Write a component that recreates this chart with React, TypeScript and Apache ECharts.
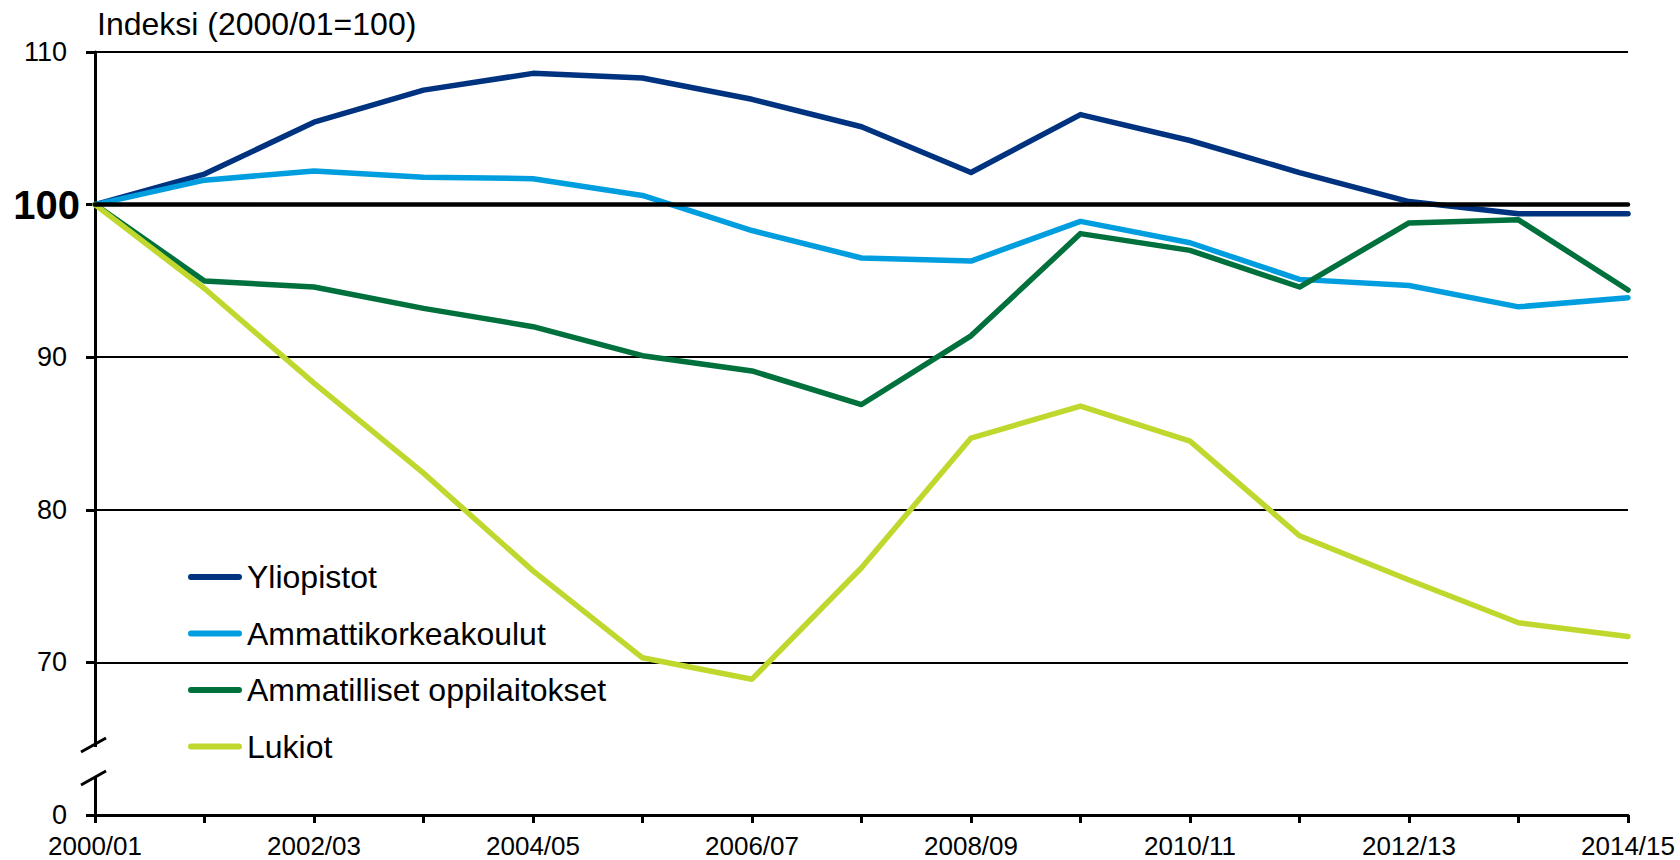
import React, { useEffect, useRef } from "react";
import * as echarts from "echarts";

const categories = [
  "2000/01", "2001/02", "2002/03", "2003/04", "2004/05", "2005/06", "2006/07", "2007/08",
  "2008/09", "2009/10", "2010/11", "2011/12", "2012/13", "2013/14", "2014/15",
];
const yliopistot = [100, 102.0, 105.4, 107.5, 108.6, 108.3, 106.9, 105.1, 102.1, 105.9, 104.2, 102.1, 100.2, 99.4, 99.4];
const ammattikorkeakoulut = [100, 101.6, 102.2, 101.8, 101.7, 100.6, 98.3, 96.5, 96.3, 98.9, 97.5, 95.1, 94.7, 93.3, 93.9];
const ammatilliset = [100, 95.0, 94.6, 93.2, 92.0, 90.1, 89.1, 86.9, 91.4, 98.1, 97.0, 94.6, 98.8, 99.0, 94.4];
const lukiot = [100, 94.5, 88.3, 82.4, 76.0, 70.3, 68.9, 76.2, 84.7, 86.8, 84.5, 78.3, 75.4, 72.6, 71.7];

const seriesNames = ["Yliopistot", "Ammattikorkeakoulut", "Ammatilliset oppilaitokset", "Lukiot"];
const seriesColors = ["#00337F", "#009EDF", "#00703C", "#C0D82E"];
const titleText = "Indeksi (2000/01=100)";
// axis runs 60..110; the bottom value 60 stands for the broken-off 0
const axisBottomLabel = "0";
const referenceValue = 100;

const FONT = "'Liberation Sans', Arial, sans-serif";

export default function App() {
  const ref = useRef<HTMLDivElement>(null);

  useEffect(() => {
    document.body.style.margin = "0";
    const chart = echarts.init(ref.current!, null, { renderer: "svg" });
    const data = [yliopistot, ammattikorkeakoulut, ammatilliset, lukiot];

    const option: any = {
      animation: false,
      backgroundColor: "#ffffff",
      textStyle: { fontFamily: FONT, color: "#000" },
      title: {
        text: titleText,
        left: 97,
        top: 8,
        padding: 0,
        textStyle: { fontFamily: FONT, fontSize: 32, fontWeight: "normal", color: "#000" },
      },
      legend: {
        data: seriesNames,
        orient: "vertical",
        left: 188,
        top: 561,
        padding: 0,
        itemWidth: 54,
        itemHeight: 6,
        itemGap: 24.5,
        icon: "path://M3,0L51,0A3,3,0,0,1,51,6L3,6A3,3,0,0,1,3,0Z",
        textStyle: { fontFamily: FONT, fontSize: 32, lineHeight: 32, color: "#000" },
        selectedMode: false,
      },
      grid: { left: 95, right: 52, top: 52, bottom: 45, containLabel: false },
      xAxis: {
        type: "category",
        data: categories,
        boundaryGap: false,
        axisLine: { lineStyle: { color: "#000", width: 3 } },
        axisTick: { show: true, interval: 0, inside: false, length: 8, lineStyle: { color: "#000", width: 3 } },
        axisLabel: { interval: 1, margin: 18, fontFamily: FONT, fontSize: 26, color: "#000" },
        splitLine: { show: false },
      },
      yAxis: {
        type: "value",
        min: 60,
        max: 110,
        interval: 10,
        axisLine: { show: true, lineStyle: { color: "#000", width: 3 } },
        axisTick: { show: true, inside: false, length: 9, lineStyle: { color: "#000", width: 3 } },
        axisLabel: {
          margin: 28,
          fontFamily: FONT,
          fontSize: 27,
          color: "#000",
          formatter: (v: number) => (v === 60 ? axisBottomLabel : v === referenceValue ? "" : String(v)),
        },
        splitLine: { show: true, lineStyle: { color: "#000", width: 2 } },
      },
      series: [
        ...seriesNames.map((name, i) => ({
          name,
          type: "line",
          data: data[i],
          showSymbol: false,
          symbol: "none",
          z: 3,
          lineStyle: { color: seriesColors[i], width: 5.5, cap: "round", join: "round" },
          itemStyle: { color: seriesColors[i] },
        })),
        {
          name: "ref",
          type: "line",
          data: [],
          z: 10,
          markLine: {
            silent: true,
            symbol: ["none", "none"],
            label: { show: false },
            lineStyle: { color: "#000", width: 4.5, type: "solid", cap: "round" },
            data: [{ yAxis: referenceValue }],
          },
        },
      ],
    };
    chart.setOption(option);

    const ax = chart.convertToPixel({ xAxisIndex: 0 }, categories[0]) as number;
    const y100 = chart.convertToPixel({ yAxisIndex: 0 }, referenceValue) as number;
    const yBottom = chart.convertToPixel({ yAxisIndex: 0 }, 60) as number;
    const b1 = yBottom - 70;
    const b2 = yBottom - 37;

    chart.setOption({
      graphic: [
        { type: "rect", z: 100, shape: { x: ax - 5, y: b1 + 2, width: 10, height: b2 - b1 - 4 }, style: { fill: "#fff" } },
        { type: "line", z: 101, shape: { x1: ax - 14, y1: b1 + 7, x2: ax + 11, y2: b1 - 7 }, style: { stroke: "#000", lineWidth: 3 } },
        { type: "line", z: 101, shape: { x1: ax - 14, y1: b2 + 7, x2: ax + 11, y2: b2 - 7 }, style: { stroke: "#000", lineWidth: 3 } },
        {
          type: "text",
          z: 101,
          x: ax - 15,
          y: y100,
          style: {
            text: String(referenceValue),
            fontFamily: FONT,
            fontSize: 40,
            fontWeight: "bold",
            fill: "#000",
            align: "right",
            verticalAlign: "middle",
          },
        },
      ],
    });

    return () => chart.dispose();
  }, []);

  return <div ref={ref} style={{ width: 1680, height: 860 }} />;
}
